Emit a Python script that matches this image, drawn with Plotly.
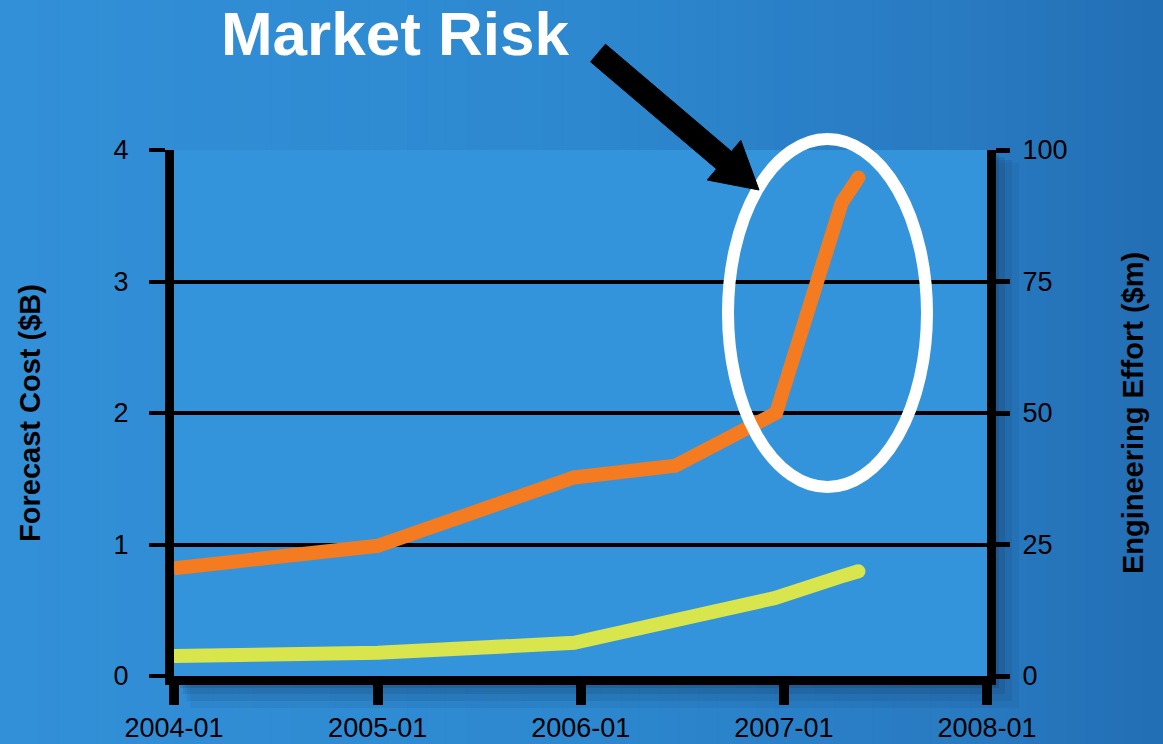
import plotly.graph_objects as go

# ---------------- data ----------------
cost_dates = ["2004-01-01", "2005-01-01", "2005-12-20", "2006-06-20",
              "2006-12-18", "2007-04-15", "2007-05-15"]
cost_values = [0.82, 0.99, 1.51, 1.60, 2.00, 3.60, 3.79]          # Forecast Cost ($B)

effort_dates = ["2004-01-01", "2005-01-01", "2005-12-20", "2006-12-15",
                "2007-04-10", "2007-05-15"]
effort_values = [3.8, 4.4, 6.3, 14.8, 18.8, 19.9]                 # Engineering Effort ($m)

x_tickvals = ["2004-01-01", "2005-01-01", "2006-01-01", "2007-01-01", "2008-01-01"]
x_ticktext = ["2004-01", "2005-01", "2006-01", "2007-01", "2008-01"]
left_ticks = [0, 1, 2, 3, 4]
right_ticks = [0, 25, 50, 75, 100]

title_text = "Market Risk"
left_title = "Forecast Cost ($B)"
right_title = "Engineering Effort ($m)"

# ---------------- layout geometry (pixels) ----------------
WIDTH, HEIGHT = 1163, 744
L, R, T, B = 174, 987, 150, 676
PW, PH = R - L, B - T


def px(x):
    return (x - L) / PW


def py(y):
    return (B - y) / PH


ORANGE = "#F47B20"
YELLOW = "#D8E54C"
PLOT_BG = "#3494DB"
FONT = "Liberation Sans, Arial, sans-serif"

fig = go.Figure()

fig.add_trace(go.Scatter(
    x=cost_dates, y=cost_values, mode="lines", name=left_title,
    line=dict(color=ORANGE, width=14),
    yaxis="y", showlegend=False, hoverinfo="x+y",
))
fig.add_trace(go.Scatter(
    x=effort_dates, y=effort_values, mode="lines", name=right_title,
    line=dict(color=YELLOW, width=14),
    yaxis="y2", showlegend=False, hoverinfo="x+y",
))
# rounded end caps
fig.add_trace(go.Scatter(
    x=cost_dates[-1:], y=cost_values[-1:], mode="markers", yaxis="y",
    marker=dict(color=ORANGE, size=14, opacity=1, line=dict(width=0)),
    showlegend=False, hoverinfo="skip",
))
fig.add_trace(go.Scatter(
    x=effort_dates[-1:], y=effort_values[-1:], mode="markers", yaxis="y2",
    marker=dict(color=YELLOW, size=14, opacity=1, line=dict(width=0)),
    showlegend=False, hoverinfo="skip",
))

shapes = []
# background gradient strips (paper)
stops = [(0.0, (50, 144, 216)), (0.5, (45, 136, 207)), (0.85, (40, 121, 192)), (1.0, (34, 110, 180))]


def grad(t):
    for (t0, c0), (t1, c1) in zip(stops[:-1], stops[1:]):
        if t <= t1:
            f = (t - t0) / (t1 - t0) if t1 > t0 else 0
            return "rgb(%d,%d,%d)" % tuple(round(a + (b - a) * f) for a, b in zip(c0, c1))
    return "rgb(%d,%d,%d)" % stops[-1][1]


N = 60
for i in range(N):
    x0 = WIDTH * i / N
    x1 = WIDTH * (i + 1) / N + 1
    shapes.append(dict(type="rect", xref="paper", yref="paper", layer="below",
                       x0=px(x0), x1=px(x1), y0=py(HEIGHT), y1=py(0),
                       fillcolor=grad((i + 0.5) / N), line=dict(width=0)))
# drop shadow behind plot
for off, op in [(32, 0.06), (25, 0.08), (18, 0.11), (12, 0.14), (7, 0.17), (3, 0.2)]:
    shapes.append(dict(type="rect", xref="paper", yref="paper", layer="below",
                       x0=px(L + off * 0.5), x1=px(R + off), y0=py(B + off), y1=py(T + off * 0.4),
                       fillcolor="rgba(8,25,55,%.2f)" % op, line=dict(width=0)))
# plot area fill (drawn over the shadow)
shapes.append(dict(type="rect", xref="paper", yref="paper", layer="below",
                   x0=0, x1=1, y0=0, y1=1, fillcolor=PLOT_BG, line=dict(width=0)))

# ellipse highlight
shapes.append(dict(type="circle", xref="paper", yref="paper", layer="above",
                   x0=px(728), x1=px(927), y0=py(487), y1=py(139),
                   line=dict(color="white", width=12)))

# arrow polygon
arrow_pts = [(590.5, 61.8), (716.5, 169.0), (707.2, 180.0), (759.0, 190.0),
             (740.8, 140.4), (731.5, 151.4), (605.5, 44.2)]
path = "M " + " L ".join("%.5f,%.5f" % (px(x), py(y)) for x, y in arrow_pts) + " Z"
shapes.append(dict(type="path", xref="paper", yref="paper", layer="above", path=path,
                   fillcolor="black", line=dict(color="black", width=1)))

fig.update_layout(
    width=WIDTH, height=HEIGHT,
    margin=dict(l=L, r=WIDTH - R, t=T, b=HEIGHT - B, pad=0, autoexpand=False),
    paper_bgcolor="#2D88CF",
    plot_bgcolor="rgba(0,0,0,0)",
    font=dict(family=FONT, color="black", size=27),
    title=dict(text="<b>%s</b>" % title_text, x=395 / WIDTH, xref="container", xanchor="center",
               y=1 - 33 / HEIGHT, yref="container", yanchor="middle",
               font=dict(family=FONT, size=62, color="white")),
    xaxis=dict(type="date", range=["2004-01-01", "2008-01-01"],
               tickvals=x_tickvals, ticktext=x_ticktext, automargin=False,
               showgrid=False, zeroline=False,
               showline=True, linecolor="black", linewidth=9,
               ticks="outside", ticklen=20, tickwidth=10, tickcolor="black",
               tickfont=dict(size=27, family=FONT), ticklabelstandoff=0),
    yaxis=dict(range=[0, 4], tickvals=left_ticks, automargin=False,
               showgrid=True, gridcolor="black", gridwidth=4, zeroline=False,
               showline=True, linecolor="black", linewidth=9,
               ticks="outside", ticklen=16, tickwidth=4, tickcolor="black",
               tickfont=dict(size=27, family=FONT), ticklabelstandoff=15,
               title=dict(text="<b>%s</b>" % left_title, font=dict(size=29, family=FONT), standoff=68)),
    yaxis2=dict(range=[0, 100], tickvals=right_ticks, overlaying="y", side="right",
                automargin=False, showgrid=False, zeroline=False,
                showline=True, linecolor="black", linewidth=9,
                ticks="outside", ticklen=14, tickwidth=5, tickcolor="black",
                tickfont=dict(size=27, family=FONT), ticklabelstandoff=7,
                title=dict(text="<b>%s</b>" % right_title, font=dict(size=29, family=FONT), standoff=60)),
    shapes=shapes,
)

fig.write_html("out.html")
